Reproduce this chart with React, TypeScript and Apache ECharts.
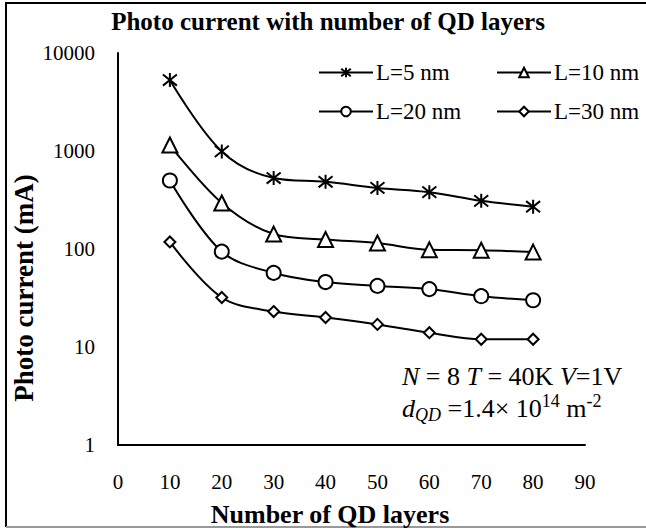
import React, { useEffect, useRef } from "react";
import * as echarts from "echarts";

const xValues = [10, 20, 30, 40, 50, 60, 70, 80];
const seriesNames = ["L=5 nm", "L=10 nm", "L=20 nm", "L=30 nm"];
const valuesL5 = [5300, 990, 530, 485, 420, 380, 310, 270];
const valuesL10 = [1150, 295, 142, 125, 115, 98, 97, 93];
const valuesL20 = [500, 94, 57, 46, 42, 39, 33, 30];
const valuesL30 = [118, 32, 23, 20, 17, 14, 12, 12];
const xTicks = [0, 10, 20, 30, 40, 50, 60, 70, 80, 90];
const yTicks = [1, 10, 100, 1000, 10000];

const FONT = "'Liberation Serif', 'Times New Roman', serif";

const STAR = "path://M0,-10L0,10M-8,-8L8,8M-8,8L8,-8";

export default function App() {
  const ref = useRef<HTMLDivElement>(null);
  useEffect(() => {
    if (!ref.current) return;
    const chart = echarts.init(ref.current, null, { renderer: "svg" });
    const pairs = (vals: number[]) => xValues.map((x, i) => [x, vals[i]]);
    const mkSeries = (name: string, vals: number[], symbol: string, size: number) => ({
      name,
      type: "line",
      data: pairs(vals),
      smooth: 0.35,
      symbol,
      symbolSize: size,
      lineStyle: { color: "#000", width: 2 },
      itemStyle: { color: "#fff", borderColor: "#000", borderWidth: 2 },
      z: 3,
    });
    const legendBase = {
      orient: "vertical",
      top: 61,
      padding: 0,
      itemWidth: 54,
      itemHeight: 12,
      itemGap: 16,
      textStyle: { fontFamily: FONT, fontSize: 23, color: "#000", padding: [0, 0, 0, -2] },
    };
    chart.setOption({
      animation: false,
      backgroundColor: "#fff",
      title: {
        text: "Photo current with number of QD layers",
        left: 323,
        textAlign: "center",
        top: 4,
        textStyle: { fontFamily: FONT, fontWeight: "bold", fontSize: 25, color: "#000" },
      },
      grid: { left: 118, top: 53, right: 61, bottom: 86, containLabel: false },
      legend: [
        { ...legendBase, data: [seriesNames[0], seriesNames[2]], left: 318 },
        { ...legendBase, data: [seriesNames[1], seriesNames[3]], left: 496 },
      ],
      xAxis: {
        type: "value",
        min: xTicks[0],
        max: xTicks[xTicks.length - 1],
        interval: 10,
        axisLine: { show: true, lineStyle: { color: "#000", width: 2 } },
        axisTick: { show: false },
        splitLine: { show: false },
        axisLabel: { fontFamily: FONT, fontSize: 21, color: "#000", margin: 26 },
      },
      yAxis: {
        type: "log",
        logBase: 10,
        min: yTicks[0],
        max: yTicks[yTicks.length - 1],
        axisLine: { show: true, lineStyle: { color: "#000", width: 2 } },
        axisTick: { show: false },
        splitLine: { show: false },
        axisLabel: {
          fontFamily: FONT,
          fontSize: 21,
          color: "#000",
          margin: 23,
          formatter: (v: number) => String(Math.round(v)),
        },
      },
      series: [
        mkSeries(seriesNames[0], valuesL5, STAR, 14),
        mkSeries(seriesNames[1], valuesL10, "triangle", 15),
        mkSeries(seriesNames[2], valuesL20, "circle", 14),
        mkSeries(seriesNames[3], valuesL30, "diamond", 11),
      ],
      graphic: [
        { type: "line", shape: { x1: 6, y1: 3, x2: 6, y2: 527 }, style: { stroke: "#000", lineWidth: 2 } },
        { type: "line", shape: { x1: 5, y1: 3, x2: 646, y2: 3 }, style: { stroke: "#000", lineWidth: 2 } },
        { type: "line", shape: { x1: 6, y1: 527, x2: 646, y2: 527 }, style: { stroke: "#999", lineWidth: 2 } },
        {
          type: "text",
          x: 24,
          y: 288,
          rotation: Math.PI / 2,
          style: {
            text: "Photo current (mA)",
            fontFamily: FONT,
            fontWeight: "bold",
            fontSize: 27,
            fill: "#000",
            align: "center",
            verticalAlign: "middle",
          },
        },
        {
          type: "text",
          x: 330,
          y: 514,
          style: {
            text: "Number of QD layers",
            fontFamily: FONT,
            fontWeight: "bold",
            fontSize: 26,
            fill: "#000",
            align: "center",
            verticalAlign: "middle",
          },
        },
        {
          type: "text",
          x: 402,
          y: 360,
          style: {
            text: "{i|N} = 8 {i|T} = 40K {i|V}=1V\n{i|d}{sub|QD} =1.4× 10{sup|14} m{sup|-2}",
            fontFamily: FONT,
            fontSize: 26,
            fill: "#000",
            align: "left",
            verticalAlign: "top",
            lineHeight: 32,
            rich: {
              i: { fontFamily: FONT, fontSize: 26, fontStyle: "italic", lineHeight: 32 },
              sub: { fontFamily: FONT, fontSize: 18, fontStyle: "italic", verticalAlign: "bottom", lineHeight: 18 },
              sup: { fontFamily: FONT, fontSize: 18, verticalAlign: "top", lineHeight: 18 },
            },
          },
        },
      ],
    });
    return () => chart.dispose();
  }, []);
  return (
    <div
      ref={ref}
      style={{ position: "fixed", left: 0, top: 0, width: 646, height: 531 }}
    />
  );
}
